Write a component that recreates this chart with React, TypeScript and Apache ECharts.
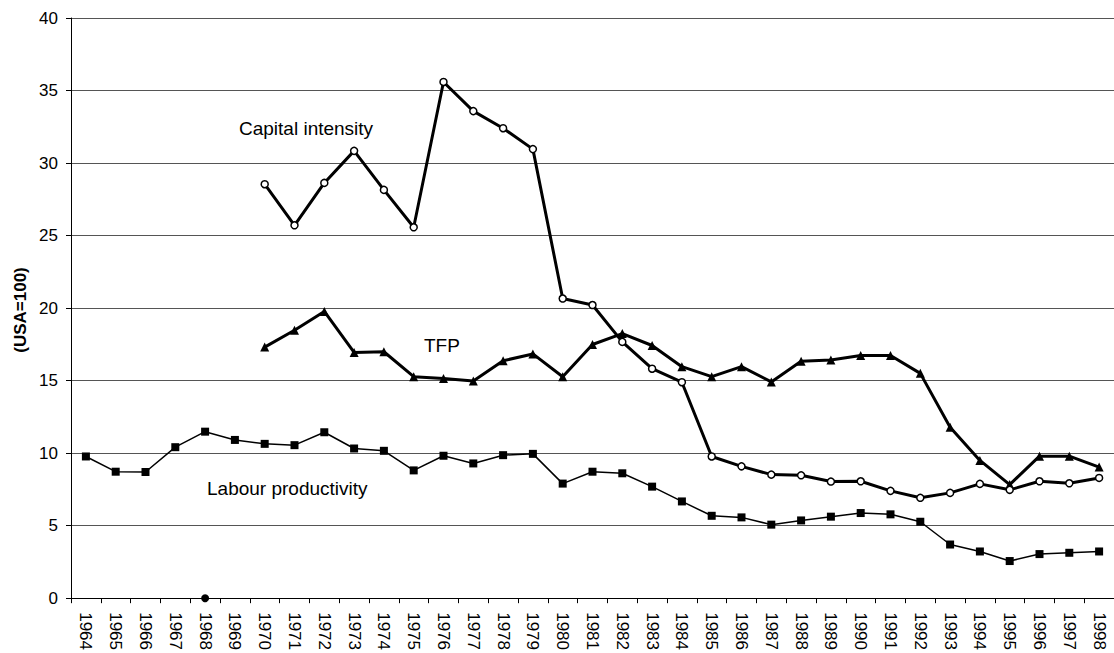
import React, { useEffect, useRef } from "react";
import * as echarts from "echarts";

const years: string[] = [];
for (let y = 1964; y <= 1998; y++) years.push(String(y));

const labourProductivity = [
  9.77, 8.72, 8.7, 10.41, 11.48, 10.91, 10.64, 10.55, 11.44, 10.32, 10.16, 8.81, 9.82, 9.29, 9.86, 9.95,
  7.9, 8.72, 8.61, 7.69, 6.67, 5.68, 5.57, 5.07, 5.36, 5.62, 5.87, 5.78, 5.27, 3.7, 3.22, 2.56, 3.04, 3.13, 3.22,
];

const capitalIntensity = [
  null, null, null, null, null, null,
  28.54, 25.71, 28.63, 30.84, 28.15, 25.57, 35.59, 33.58, 32.4, 30.96,
  20.66, 20.21, 17.67, 15.82, 14.89, 9.77, 9.09, 8.52, 8.47, 8.04,
  8.06, 7.4, 6.92, 7.26, 7.88, 7.47, 8.06, 7.92, 8.29,
];

const tfp = [
  null, null, null, null, null, null,
  17.31, 18.47, 19.77, 16.94, 16.99, 15.27, 15.14, 14.98, 16.37, 16.84,
  15.27, 17.49, 18.24, 17.42, 15.96, 15.27, 15.96, 14.91, 16.33, 16.42,
  16.73, 16.73, 15.5, 11.78, 9.5, 7.83, 9.79, 9.79, 9.04,
];

const strayPoint = [null, null, null, null, 0];

const FONT = "Liberation Sans, Arial, sans-serif";

export default function App() {
  const ref = useRef<HTMLDivElement>(null);
  useEffect(() => {
    if (!ref.current) return;
    const chart = echarts.init(ref.current, undefined, { renderer: "svg" });
    chart.setOption({
      animation: false,
      backgroundColor: "#ffffff",
      grid: { left: 71, top: 18, width: 1050, height: 584, containLabel: false },
      xAxis: {
        type: "category",
        data: years,
        boundaryGap: true,
        axisLine: { lineStyle: { color: "#000", width: 1 } },
        axisTick: { show: true, length: 5, lineStyle: { color: "#000" }, alignWithLabel: false },
        axisLabel: {
          rotate: -90,
          interval: 0,
          margin: 14,
          color: "#000",
          fontSize: 17,
          fontFamily: FONT,
        },
        splitLine: { show: false },
      },
      yAxis: {
        type: "value",
        min: 0,
        max: 40,
        interval: 5,
        axisLine: { show: true, lineStyle: { color: "#000", width: 1 } },
        axisTick: { show: true, length: 5, lineStyle: { color: "#000" } },
        axisLabel: { margin: 13, color: "#000", fontSize: 17, fontFamily: FONT },
        splitLine: { show: true, lineStyle: { color: "#555", width: 1 } },
      },
      series: [
        {
          name: "Labour productivity",
          type: "line",
          data: labourProductivity,
          symbol: "rect",
          symbolSize: 8,
          lineStyle: { color: "#000", width: 1.5 },
          itemStyle: { color: "#000" },
          z: 3,
        },
        {
          name: "TFP",
          type: "line",
          data: tfp,
          symbol: "triangle",
          symbolSize: 9,
          lineStyle: { color: "#000", width: 3 },
          itemStyle: { color: "#000" },
          z: 4,
        },
        {
          name: "Capital intensity",
          type: "line",
          data: capitalIntensity,
          symbol: "circle",
          symbolSize: 7,
          showAllSymbol: true,
          lineStyle: { color: "#000", width: 3 },
          itemStyle: { color: "#fff", borderColor: "#000", borderWidth: 1.5 },
          z: 5,
        },
        {
          name: "stray",
          type: "line",
          data: strayPoint,
          symbol: "circle",
          symbolSize: 8,
          lineStyle: { width: 0 },
          itemStyle: { color: "#000" },
          z: 6,
        },
      ],
      graphic: [
        {
          type: "text",
          x: 20,
          y: 310,
          rotation: Math.PI / 2,
          style: {
            text: "(USA=100)",
            font: `bold 17px ${FONT}`,
            fill: "#000",
            align: "center",
            verticalAlign: "middle",
          },
        },
        {
          type: "text",
          x: 239,
          y: 128,
          style: { text: "Capital intensity", font: `19px ${FONT}`, fill: "#000", verticalAlign: "middle" },
        },
        {
          type: "text",
          x: 424,
          y: 345,
          style: { text: "TFP", font: `19px ${FONT}`, fill: "#000", verticalAlign: "middle" },
        },
        {
          type: "text",
          x: 207,
          y: 488,
          style: { text: "Labour productivity", font: `19px ${FONT}`, fill: "#000", verticalAlign: "middle" },
        },
      ],
    });
    return () => chart.dispose();
  }, []);
  return (
    <div
      ref={ref}
      style={{ position: "absolute", left: 0, top: 0, width: 1114, height: 653, background: "#fff" }}
    />
  );
}
